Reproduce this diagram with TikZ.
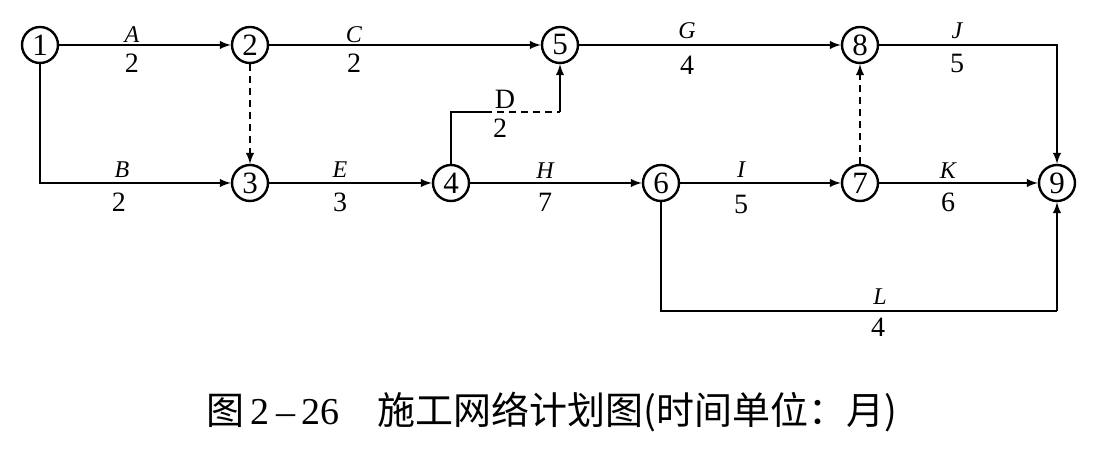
\documentclass[tikz,border=0pt]{standalone}
\usepackage{fontspec}
\setmainfont{Liberation Serif}
\newfontfamily\cjk{Noto Sans CJK SC}
\usetikzlibrary{arrows,positioning}

\begin{document}
\begin{tikzpicture}[x=0.5pt,y=-0.5pt]
\tikzset{evento node/.style={circle,draw,line width=1.2pt,minimum size=18pt,inner sep=0pt,font=\fontsize{15.5}{16}\selectfont}, }
\tikzset{attivita/.style={inner sep=0pt,font=\fontsize{12}{13}\selectfont\itshape}, }
\tikzset{durata/.style={inner sep=0pt,font=\fontsize{14}{15}\selectfont}, }
\tikzset{linea/.style={line width=0.9pt,-latex},}
\tikzset{piana/.style={line width=0.9pt},}
\tikzset{fittizia/.style={line width=0.9pt,dash pattern=on 3.5pt off 2.5pt},}
\useasboundingbox (0,0) rectangle (1100,458);
% eventi
\node[evento node] (1) at (40,45) {1};
\node[evento node] (2) at (250,45) {2};
\node[evento node] (5) at (560,45) {5};
\node[evento node] (8) at (860,45) {8};
\node[evento node] (3) at (250,183) {3};
\node[evento node] (4) at (451,183) {4};
\node[evento node] (6) at (661,183) {6};
\node[evento node] (7) at (860,183) {7};
\node[evento node] (9) at (1057,183) {9};
\coordinate (d1) at (485,112);
\coordinate (d2) at (560,112);
\coordinate (cL) at (1057,311);
% attivita
\draw[linea] (1) -- (2);
\draw[linea] (2) -- (5);
\draw[linea] (5) -- (8);
\draw[linea] (8) -| (9);
\draw[linea] (1) |- (3);
\draw[linea,fittizia] (2) -- (3);
\draw[linea] (3) -- (4);
\draw[linea] (4) -- (6);
\draw[linea] (6) -- (7);
\draw[linea] (7) -- (9);
\draw[linea,fittizia] (7) -- (8);
\draw[piana] (4) |- (d1);
\draw[fittizia] (d1) -- (d2);
\draw[linea] (d2) -- (5);
\draw[piana] (6) |- (cL);
\draw[linea] (cL) -- (9);
% etichette
\node[attivita] (tA) at (132,35) {A};
\node[durata] (nA) at (132,63) {2};
\node[attivita] (tC) at (354,35) {C};
\node[durata] (nC) at (354,63) {2};
\node[attivita] (tG) at (687,31) {G};
\node[durata] (nG) at (687,65) {4};
\node[attivita] (tJ) at (957,31) {J};
\node[durata] (nJ) at (957,63) {5};
\node[durata] (tD) at (505,99) {D};
\node[durata] (nD) at (500,128) {2};
\node[attivita] (tB) at (122,170) {B};
\node[durata] (nB) at (119,202) {2};
\node[attivita] (tE) at (340,170) {E};
\node[durata] (nE) at (340,202) {3};
\node[attivita] (tH) at (545,171) {H};
\node[durata] (nH) at (545,202) {7};
\node[attivita] (tI) at (741,170) {I};
\node[durata] (nI) at (741,204) {5};
\node[attivita] (tK) at (948,171) {K};
\node[durata] (nK) at (948,202) {6};
\node[attivita] (tL) at (880,297) {L};
\node[durata] (nL) at (878,327) {4};
% didascalia
\node[font=\fontsize{19}{21}\selectfont,inner sep=0pt] (didascalia) at (552,412) {{\cjk 图}\,2\,–\,26\hspace{1em}{\cjk 施工网络计划图(时间单位：月)}};
\end{tikzpicture}
\end{document}
